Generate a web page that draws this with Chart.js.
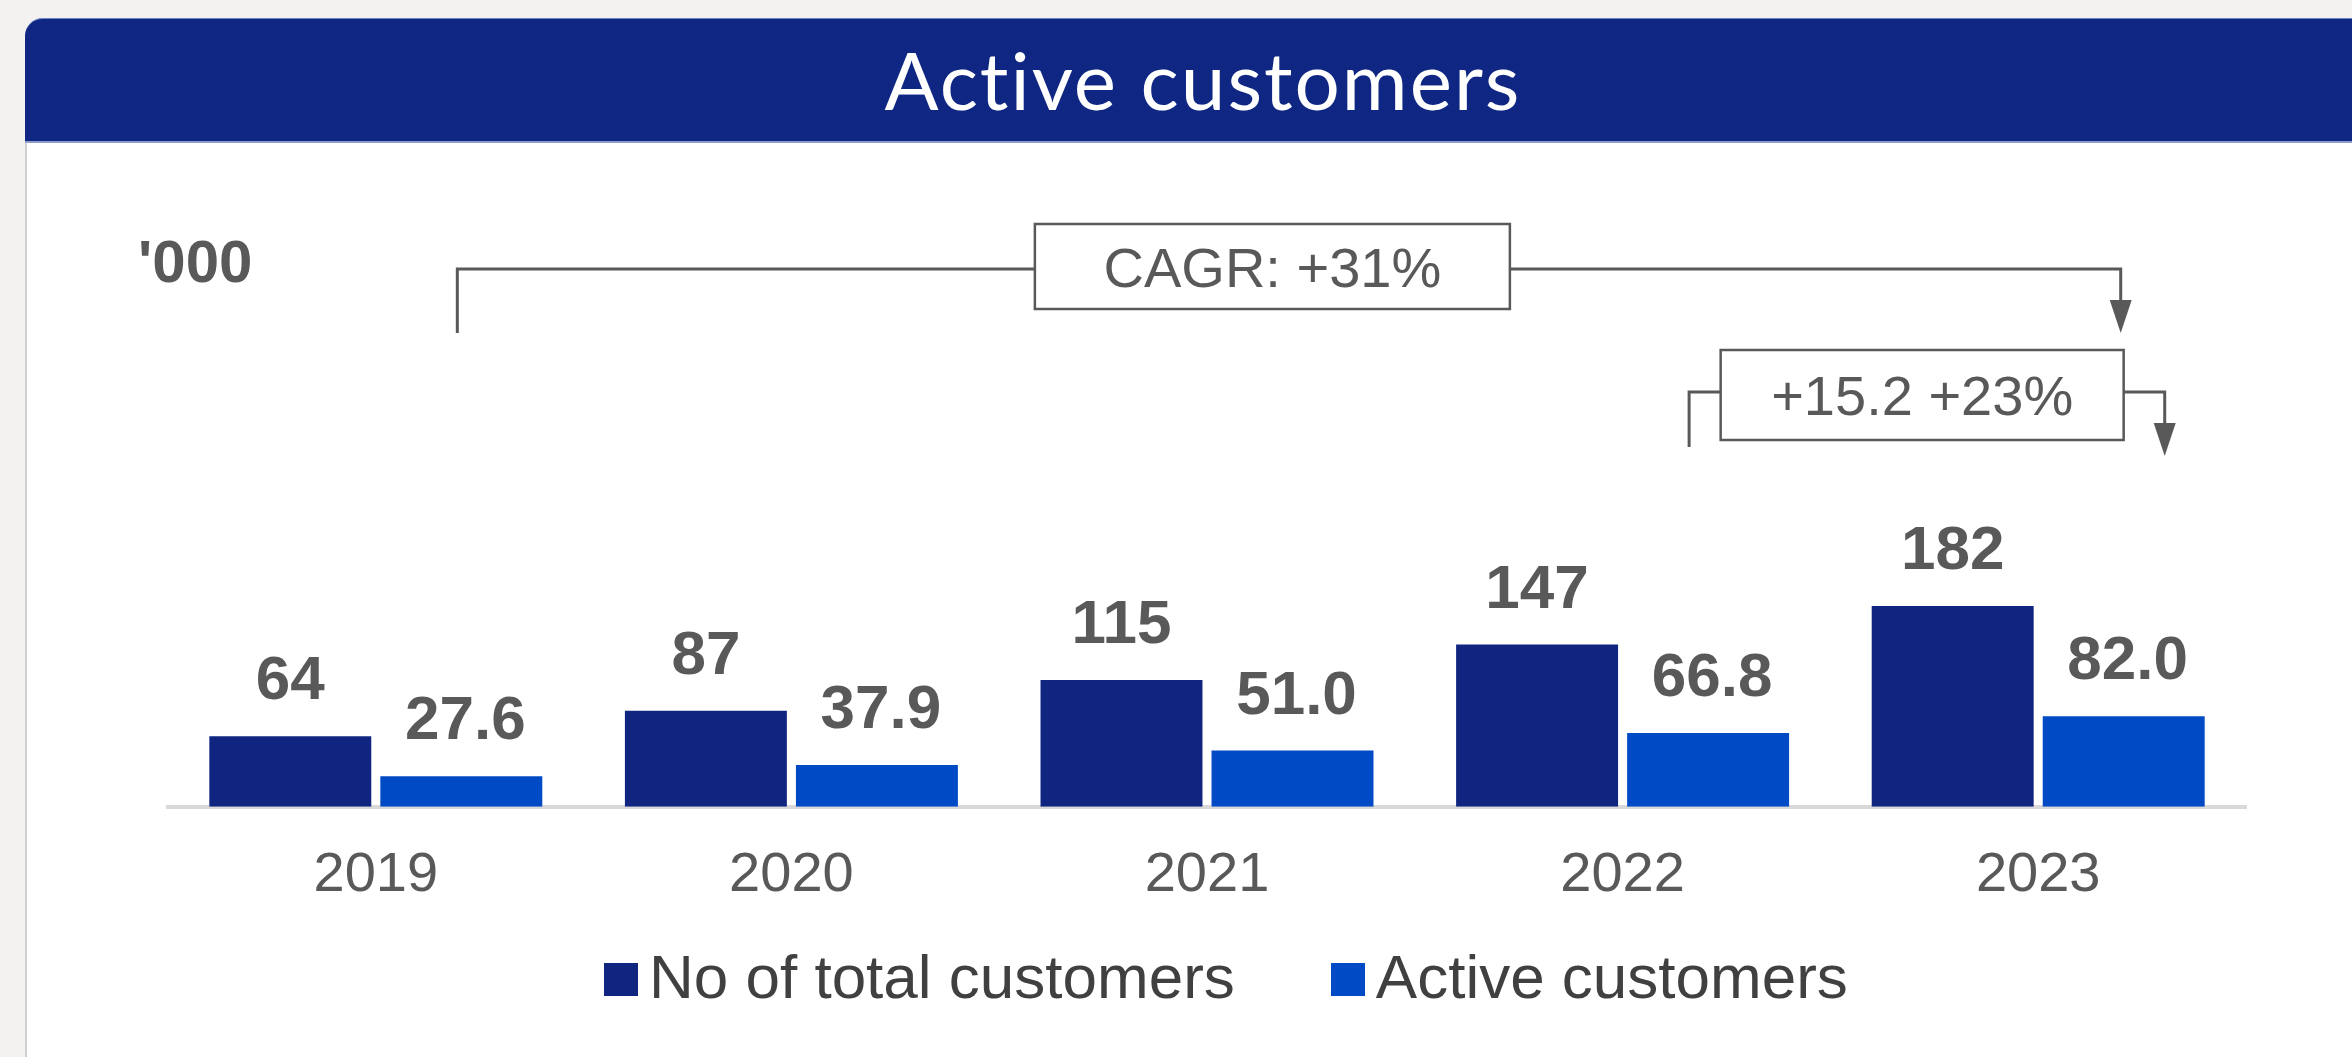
<!DOCTYPE html>
<html>
<head>
<meta charset="utf-8">
<title>Active customers</title>
<script src="https://cdn.jsdelivr.net/npm/chart.js@4.4.0/dist/chart.umd.min.js"></script>
<style>
  html, body { margin: 0; padding: 0; }
  body {
    width: 2352px; height: 1057px; overflow: hidden; position: relative;
    background: #f3f2f0; font-family: "Liberation Sans", Arial, sans-serif;
  }
  .card {
    position: absolute; left: 25px; top: 18px; width: 2360px; height: 1080px;
    background: #fff; border-left: 2px solid #d2d2d2; border-top-left-radius: 18px;
    box-sizing: border-box;
  }
  .card-head {
    position: absolute; left: 25px; top: 18px; width: 2356px; height: 125px;
    background: #0f2783; border-top-left-radius: 18px;
    border-top: 1px solid #6f84c4; border-bottom: 2px solid #8e9cc6;
    box-sizing: border-box;
  }
  .card-title {
    position: absolute; left: 0; right: 0; top: 12px;
    text-align: center; color: #fff; font-family: Lato, "Open Sans", sans-serif;
    font-size: 80px; line-height: 96px; letter-spacing: 2px;
    font-variant-ligatures: none;
  }
  .unit {
    position: absolute; left: 138px; top: 232px;
    font-weight: bold; font-size: 60px; line-height: 60px; color: #595959;
  }
  #chart { position: absolute; left: 0; top: 0; }
  .legend {
    position: absolute; left: 604px; top: 946px; display: flex;
    font-size: 62px; line-height: 62px; color: #404040;
  }
  .legend-item { display: flex; align-items: flex-start; margin-right: 96px; }
  .legend-box { width: 34px; height: 33px; margin-top: 17px; margin-right: 11px; }
</style>
</head>
<body>
<div class="card"></div>
<div class="card-head"><div class="card-title">Active customers</div></div>
<div class="unit">'000</div>
<canvas id="chart" width="2352" height="1057"></canvas>
<div class="legend" id="legend"></div>

<script>
// dados
const years = ['2019', '2020', '2021', '2022', '2023'];
const totalCustomers = [64, 87, 115, 147, 182];
const activeCustomers = [27.6, 37.9, 51.0, 66.8, 82.0];
const seriesNames = ['No of total customers', 'Active customers'];
const seriesColors = ['#0f2580', '#004bc5'];
const bracketLabels = ['CAGR: +31%', '+15.2 +23%'];

const GREY = '#595959';

// rótulos em cima das barras
const barLabels = {
  id: 'barLabels',
  afterDatasetsDraw(chart) {
    const ctx = chart.ctx;
    ctx.save();
    ctx.font = 'bold 62px "Liberation Sans", Arial, sans-serif';
    ctx.fillStyle = GREY;
    ctx.textAlign = 'center';
    ctx.textBaseline = 'alphabetic';
    chart.data.datasets.forEach((ds, di) => {
      chart.getDatasetMeta(di).data.forEach((bar, i) => {
        const v = ds.data[i];
        const txt = di === 0 ? String(v) : v.toFixed(1);
        ctx.fillText(txt, bar.x + (di === 1 ? 4 : 0), bar.y - 37);
      });
    });
    ctx.restore();
  }
};

// colchetes com setas (CAGR e variação do último ano)
const brackets = {
  id: 'brackets',
  afterDraw(chart) {
    const ctx = chart.ctx;
    const active = chart.getDatasetMeta(1).data;

    const rows = [
      { label: bracketLabels[0], x1: active[0].x - 4, x2: active[4].x - 3,
        lineY: 269, legEnd: 333, boxW: 475, boxTop: 224, boxH: 85 },
      { label: bracketLabels[1], x1: active[3].x - 19, x2: active[4].x + 41,
        lineY: 392, legEnd: 456, leftEnd: 447, boxW: 403, boxTop: 350, boxH: 90 }
    ];

    ctx.save();
    ctx.strokeStyle = GREY;
    ctx.fillStyle = GREY;
    rows.forEach(r => {
      const cx = r.x1 + 0.49 * (r.x2 - r.x1);
      const bx = cx - r.boxW / 2;
      const headH = 33, headW = 22;

      ctx.lineWidth = 3;
      ctx.beginPath();
      ctx.moveTo(r.x1, r.leftEnd || r.legEnd);
      ctx.lineTo(r.x1, r.lineY);
      ctx.lineTo(bx, r.lineY);
      ctx.moveTo(bx + r.boxW, r.lineY);
      ctx.lineTo(r.x2, r.lineY);
      ctx.lineTo(r.x2, r.legEnd - headH + 2);
      ctx.stroke();

      ctx.beginPath();
      ctx.moveTo(r.x2 - headW / 2, r.legEnd - headH);
      ctx.lineTo(r.x2 + headW / 2, r.legEnd - headH);
      ctx.lineTo(r.x2, r.legEnd);
      ctx.closePath();
      ctx.fill();

      ctx.lineWidth = 2.5;
      ctx.fillStyle = '#fff';
      ctx.fillRect(bx, r.boxTop, r.boxW, r.boxH);
      ctx.strokeRect(bx, r.boxTop, r.boxW, r.boxH);

      ctx.fillStyle = GREY;
      ctx.font = '56px "Liberation Sans", Arial, sans-serif';
      ctx.textAlign = 'center';
      ctx.textBaseline = 'alphabetic';
      ctx.fillText(r.label, cx, r.boxTop + r.boxH / 2 + 20);
    });
    ctx.restore();
  }
};

const chart = new Chart(document.getElementById('chart'), {
  type: 'bar',
  data: {
    labels: years,
    datasets: [
      { label: seriesNames[0], data: totalCustomers, backgroundColor: seriesColors[0] },
      { label: seriesNames[1], data: activeCustomers, backgroundColor: seriesColors[1] }
    ]
  },
  options: {
    responsive: false,
    animation: false,
    devicePixelRatio: 1,
    layout: { padding: { left: 168, right: 106, top: 255, bottom: 113 } },
    datasets: { bar: { categoryPercentage: 0.823, barPercentage: 0.947, borderWidth: 0 } },
    plugins: { legend: { display: false }, tooltip: { enabled: false } },
    scales: {
      x: {
        grid: { display: false, drawTicks: false },
        border: { display: true, color: '#d9d9d9', width: 4 },
        ticks: { color: GREY, padding: 35, font: { family: '"Liberation Sans", Arial, sans-serif', size: 56 } }
      },
      y: { display: false, min: 0, max: 500 }
    }
  },
  plugins: [barLabels, brackets]
});

// legenda em HTML (caixa mais próxima do texto que a legenda do Chart.js)
document.getElementById('legend').innerHTML = chart.data.datasets.map(ds => `
  <div class="legend-item">
    <div class="legend-box" style="background:${ds.backgroundColor}"></div>
    <div>${ds.label}</div>
  </div>`).join('');
</script>
</body>
</html>
